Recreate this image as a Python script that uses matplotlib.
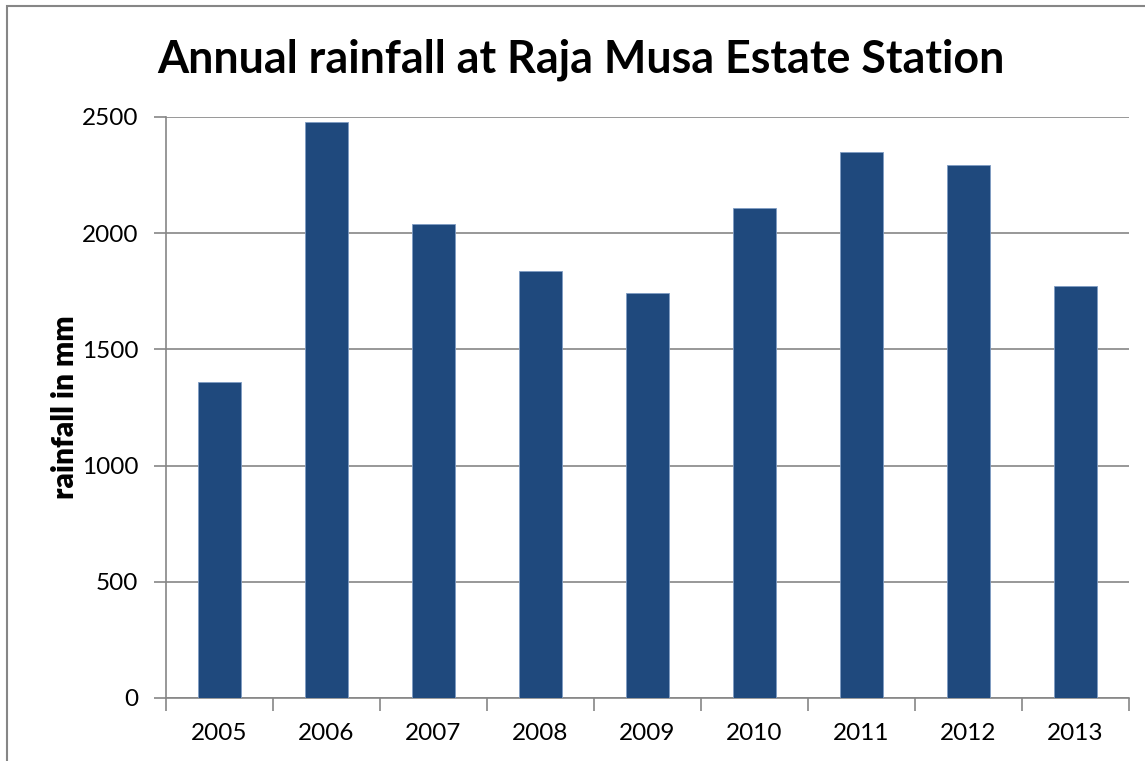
import numpy as np
import matplotlib.pyplot as plt
from matplotlib.patches import Rectangle

# donnees
years = ['2005', '2006', '2007', '2008', '2009', '2010', '2011', '2012', '2013']
rainfall = [1360, 2478, 2040, 1837, 1743, 2108, 2349, 2293, 1773]
yticks = [0, 500, 1000, 1500, 2000, 2500]

plt.rcParams['font.family'] = ['Lato', 'DejaVu Sans']

fig = plt.figure(figsize=(11.45, 7.61), dpi=100)
ax = fig.add_axes([0.145, 0.0828, 0.841, 0.7635])

x = np.arange(len(years))
ax.bar(x, rainfall, width=0.4, color='#1F497D', edgecolor='#7F9CC4', linewidth=0.6, zorder=3)

ax.set_xlim(-0.5, len(years) - 0.5)
ax.set_ylim(0, 2500)
ax.set_yticks(yticks)
ax.set_xticks(x)
ax.set_xticklabels(years, fontsize=17.5)
ax.tick_params(axis='y', labelsize=17.5, length=9, color='#868686', width=1.2, pad=11)
ax.tick_params(axis='x', length=0, pad=18)
# ticks entre les categories
ax.set_xticks(np.arange(len(years) + 1) - 0.5, minor=True)
ax.tick_params(axis='x', which='minor', length=9, color='#868686', width=1.2, direction='out')

ax.yaxis.grid(True, color='#868686', linewidth=1.2, zorder=0)
for s in ['top', 'right']:
    ax.spines[s].set_visible(False)
for s in ['left', 'bottom']:
    ax.spines[s].set_color('#868686')
    ax.spines[s].set_linewidth(1.2)

ax.set_ylabel('rainfall in mm', fontsize=21.5, fontweight='heavy', labelpad=2)
fig.text(0.507, 0.922, 'Annual rainfall at Raja Musa Estate Station',
         fontsize=32.3, fontweight='bold', ha='center', va='center')

# cadre exterieur
fig.patches.append(Rectangle((7 / 1145, -0.05), 1.2, 1 - 6 / 761 + 0.05,
                             transform=fig.transFigure, fill=False,
                             edgecolor='#868686', linewidth=1.5))

fig.savefig('out.png', dpi=100)
